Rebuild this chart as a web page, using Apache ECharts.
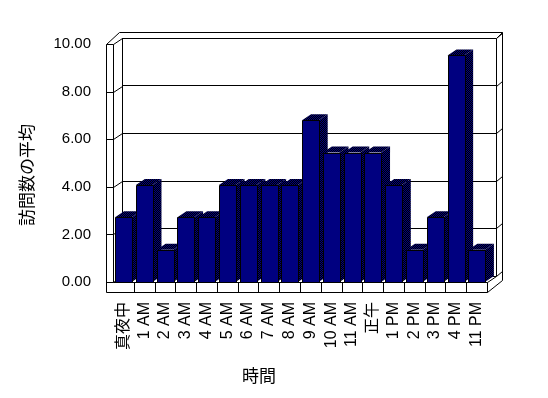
<!DOCTYPE html>
<html>
<head>
<meta charset="utf-8">
<script src="https://cdn.jsdelivr.net/npm/echarts@6/dist/echarts.min.js"></script>
<style>
html,body{margin:0;padding:0;background:#fff;}
#main{width:548px;height:398px;}
</style>
</head>
<body>
<div id="main"></div>
<script>
// ---- data ----
const categories = ['真夜中','1 AM','2 AM','3 AM','4 AM','5 AM','6 AM','7 AM','8 AM','9 AM','10 AM','11 AM','正午','1 PM','2 PM','3 PM','4 PM','11 PM'];
const visits = [2.72,4.08,1.36,2.72,2.72,4.08,4.08,4.08,4.08,6.80,5.44,5.44,5.44,4.08,1.36,2.72,9.52,1.36];
const yTicks = [0,2,4,6,8,10];
const yTitle = '訪問数の平均';
const xTitle = '時間';

// ---- layout ----
const W = 548, H = 398;
const GL = 113, GR = 487, GT = 44, GB = 282;   // front plane
const DX = 9, DY = -6;                         // depth offset
const OL = 106, OT = 32, OR = 502, FB = 292;   // wall / floor thickness
const FONT = "'Liberation Sans','Noto Sans CJK JP',sans-serif";

// dithered navy/black pattern for the top & side faces
const pc = document.createElement('canvas');
pc.width = 2; pc.height = 2;
const pctx = pc.getContext('2d');
pctx.fillStyle = '#000080'; pctx.fillRect(0,0,2,2);
pctx.fillStyle = '#000000'; pctx.fillRect(1,0,1,1); pctx.fillRect(0,1,1,1);
const dither = {image: pc, repeat: 'repeat'};

const chart = echarts.init(document.getElementById('main'), null, {renderer:'canvas'});

function yOf(v){ return GB - v*(GB-GT)/10; }
const P = v => Math.round(v) + 0.5;
function line(x1,y1,x2,y2){
  return {type:'line', silent:true, z:1, shape:{x1:P(x1),y1:P(y1),x2:P(x2),y2:P(y2)}, style:{stroke:'#000', lineWidth:1}};
}
const g = [];
// left wall thickness + left wall
g.push(line(OL, GT, OL, FB));
g.push(line(GL, GT, GL, GB));
yTicks.forEach(v => {
  const y = yOf(v);
  g.push(line(OL, y, GL, y));
  g.push(line(GL, y, GL+DX, y+DY));
  g.push(line(GR+DX, y+DY, OR, y+DY-5));
});
// back wall edges
g.push(line(GL+DX, GT+DY, GL+DX, GB+DY));
g.push(line(GR+DX, GT+DY, GR+DX, GB+DY));
// outer top
g.push(line(OL, GT, GL+DX-3, OT));
g.push(line(GL+DX-3, OT, OR, OT));
g.push(line(GR+DX, GT+DY, OR, OT));
// outer right
g.push(line(OR, OT, OR, FB-12));
// floor
g.push(line(GL, GB, GR, GB));
g.push(line(OL, FB, GR, FB));
g.push(line(GR, FB, OR, FB-12));
g.push(line(GR, GB, GR+DX, GB+DY));
const cw = (GR-GL)/categories.length;
for (let i=1;i<=categories.length;i++){
  g.push(line(GL+i*cw, GB, GL+i*cw, FB));
}
// axis titles
g.push({type:'text', x:27, y:175, rotation:Math.PI/2, silent:true,
  style:{text:yTitle, font:"17px 'Noto Sans CJK JP',sans-serif", fill:'#000', align:'center', verticalAlign:'middle'}});
g.push({type:'text', x:259, y:376, silent:true,
  style:{text:xTitle, font:"17px 'Noto Sans CJK JP',sans-serif", fill:'#000', align:'center', verticalAlign:'middle'}});

const option = {
  backgroundColor:'#fff',
  animation:false,
  grid:[
    {left:GL, right:W-GR, top:GT, bottom:H-GB},
    {left:GL+DX, right:W-GR-DX, top:GT+DY, bottom:H-GB-DY}
  ],
  xAxis:[
    {type:'category', gridIndex:0, data:categories,
     axisLine:{show:false}, axisTick:{show:false},
     axisLabel:{rotate:90, margin:20, fontSize:16, color:'#000', fontFamily:FONT, interval:0}},
    {type:'value', gridIndex:1, show:false, min:0, max:1}
  ],
  yAxis:[
    {type:'value', gridIndex:0, min:0, max:10, interval:2,
     axisLine:{show:false}, axisTick:{show:false}, splitLine:{show:false},
     axisLabel:{margin:22, fontSize:15, color:'#000', fontFamily:FONT, formatter:v=>v.toFixed(2)}},
    {type:'value', gridIndex:1, min:0, max:10, interval:2,
     axisLine:{show:false}, axisTick:{show:false}, axisLabel:{show:false},
     splitLine:{show:true, lineStyle:{color:'#000', width:1}}}
  ],
  graphic: g,
  series:[{
    type:'custom', xAxisIndex:0, yAxisIndex:0, z:5,
    data: visits.map((v,i)=>[i,v]),
    renderItem:function(params, api){
      const idx = api.value(0), val = api.value(1);
      const pt = api.coord([idx, val]);
      const p0 = api.coord([idx, 0]);
      const w = api.size([1,0])[0]*0.8;
      const x0 = pt[0]-w/2, x1 = pt[0]+w/2;
      const yT = pt[1], yB = p0[1];
      return {type:'group', children:[
        {type:'polygon', shape:{points:[[x1,yT],[x1+DX,yT+DY],[x1+DX,yB+DY],[x1,yB]]}, style:{fill:dither, stroke:null}},
        {type:'polygon', shape:{points:[[x0,yT],[x0+DX,yT+DY],[x1+DX,yT+DY],[x1,yT]]}, style:{fill:dither, stroke:null}},
        {type:'rect', shape:{x:Math.round(x0)+0.5, y:Math.round(yT)+0.5, width:Math.round(w), height:Math.round(yB)-Math.round(yT)}, style:{fill:'#000080', stroke:'#000', lineWidth:1}}
      ]};
    }
  }]
};
chart.setOption(option);
</script>
</body>
</html>
